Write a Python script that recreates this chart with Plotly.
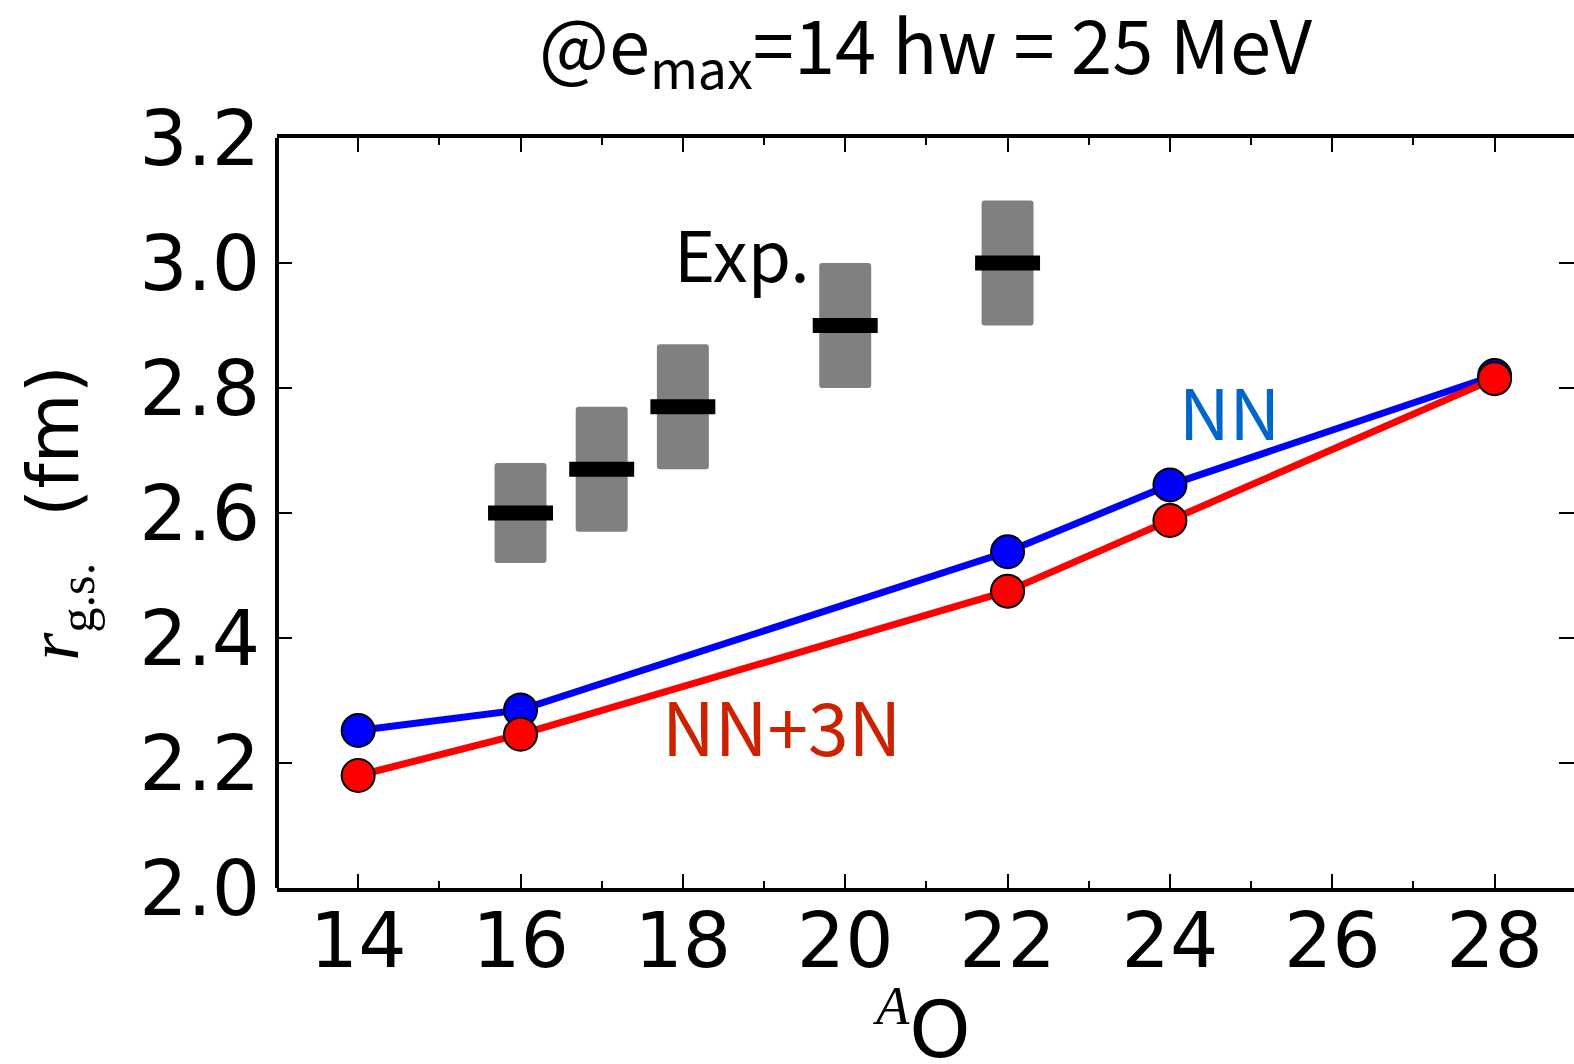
import plotly.graph_objects as go

# ---- data ----
A_theory = [14, 16, 22, 24, 28]
r_NN = [2.252, 2.285, 2.538, 2.645, 2.82]
r_NN3N = [2.18, 2.246, 2.475, 2.588, 2.815]

A_exp = [16, 17, 18, 20, 22]
r_exp = [2.60, 2.67, 2.77, 2.90, 3.00]
r_exp_err = [0.08, 0.10, 0.10, 0.10, 0.10]

x_ticks = [14, 16, 18, 20, 22, 24, 26, 28]
y_ticks = [2.0, 2.2, 2.4, 2.6, 2.8, 3.0, 3.2]

fig = go.Figure()

# experimental uncertainty boxes
fig.add_trace(go.Bar(
    x=A_exp, y=[2 * e for e in r_exp_err],
    base=[r - e for r, e in zip(r_exp, r_exp_err)],
    width=0.64, marker=dict(color="#808080", line=dict(width=0), cornerradius=3),
    showlegend=False, hoverinfo="skip"))
# experimental central values
bar_h = 0.024
fig.add_trace(go.Bar(
    x=A_exp, y=[bar_h] * len(A_exp),
    base=[r - bar_h / 2 for r in r_exp],
    width=0.8, marker=dict(color="black", line=dict(width=0)),
    showlegend=False, hoverinfo="skip"))

fig.add_trace(go.Scatter(
    x=A_theory, y=r_NN, mode="lines+markers",
    line=dict(color="#0000ff", width=7),
    marker=dict(size=33, color="#0000ff", line=dict(color="black", width=2)),
    showlegend=False))
fig.add_trace(go.Scatter(
    x=A_theory, y=r_NN3N, mode="lines+markers",
    line=dict(color="#ff0000", width=7),
    marker=dict(size=33, color="#ff0000", line=dict(color="black", width=2)),
    showlegend=False))

txt_font = "Noto Sans CJK JP"
fig.add_annotation(x=18.73, y=3.018, text="Exp.", showarrow=False,
                   font=dict(family=txt_font, size=70, color="black"))
fig.add_annotation(x=24.73, y=2.766, text="NN", showarrow=False,
                   font=dict(family=txt_font, size=70, color="#0066cc"))
fig.add_annotation(x=19.22, y=2.262, text="NN+3N", showarrow=False,
                   font=dict(family=txt_font, size=73, color="#cc2200"))

# x-axis title (as annotation for precise placement)
fig.add_annotation(xref="paper", yref="paper", x=0.497, y=-0.183,
                   xanchor="center", yanchor="middle", showarrow=False,
                   text='<sup><span style="font-family:\'Liberation Serif\'"><i>A</i></span></sup>O',
                   font=dict(family="DejaVu Sans", size=78, color="black"))

# left spine
fig.add_shape(type="line", xref="paper", yref="paper", x0=0, x1=0, y0=0, y1=1,
              line=dict(color="black", width=4))

tick_font = dict(family="DejaVu Sans", size=76, color="black")

fig.update_layout(
    width=1574, height=1064,
    margin=dict(l=277, r=0, t=138, b=176),
    paper_bgcolor="white", plot_bgcolor="white",
    barmode="overlay",
    title=dict(text="@e<sub>max</sub>=14 hw = 25 MeV",
               font=dict(family=txt_font, size=74, color="black"),
               x=0.5, xref="paper", xanchor="center",
               y=1 - 48 / 1064, yref="container", yanchor="middle"),
    xaxis=dict(range=[13, 28.978], tickvals=x_ticks, ticktext=[str(v) for v in x_ticks],
               showgrid=False, zeroline=False,
               showline=True, linecolor="black", linewidth=4, mirror="ticks",
               ticks="inside", ticklen=14, tickwidth=2, tickcolor="black",
               minor=dict(dtick=1, tick0=13, ticks="inside", ticklen=7, tickwidth=2,
                          tickcolor="black", showgrid=False),
               tickfont=tick_font, ticklabelstandoff=-16),
    yaxis=dict(range=[2.0, 3.2], tickvals=y_ticks, ticktext=["%.1f" % v for v in y_ticks],
               showgrid=False, zeroline=False,
               showline=False, mirror="ticks",
               ticks="inside", ticklen=15, tickwidth=2, tickcolor="black",
               tickfont=tick_font, ticklabelstandoff=16,
               title=dict(text='<span style="font-family:\'Liberation Serif\'"><i>r</i><sub>g.s.</sub></span>  (fm)',
                          font=dict(family="DejaVu Sans", size=72, color="black"),
                          standoff=36)),
)

fig.write_html("out.html")
